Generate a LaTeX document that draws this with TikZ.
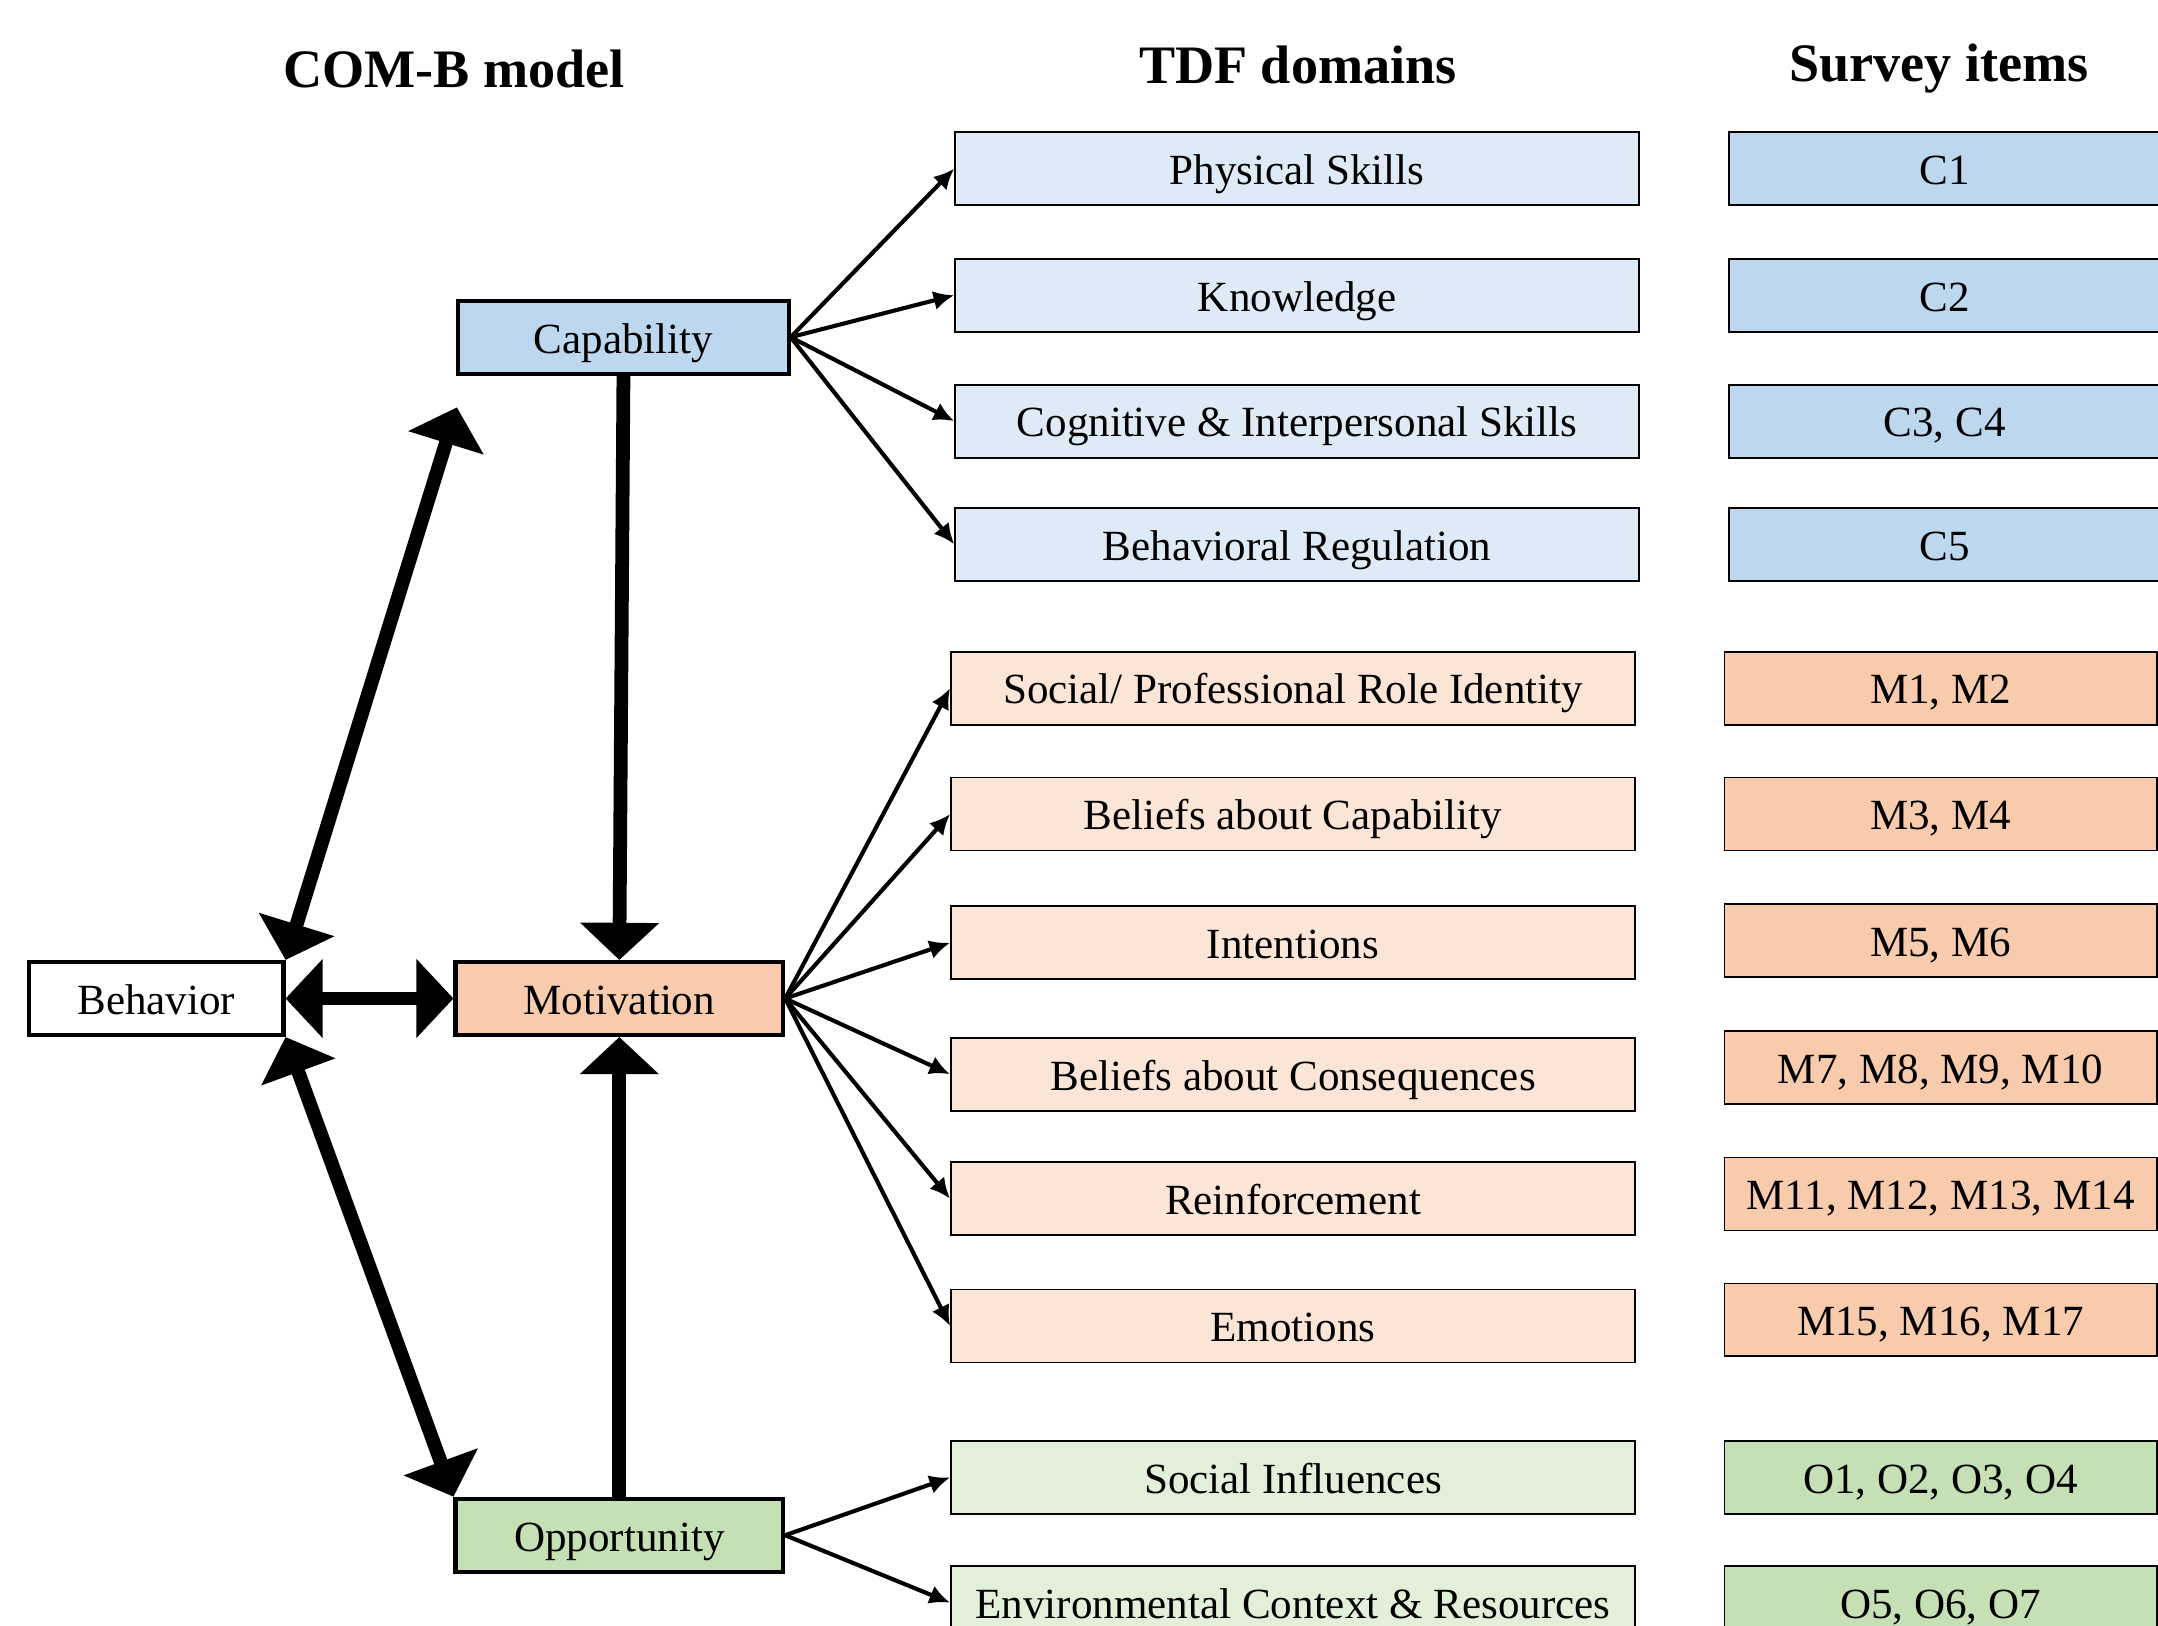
\documentclass[tikz,border=0pt]{standalone}
\usepackage{fontspec}
\setmainfont{Liberation Serif}
\usepackage{xcolor}
\usetikzlibrary{arrows.meta,positioning,calc}

\definecolor{capfill}{HTML}{BDD7EE}
\definecolor{caplight}{HTML}{DEEBF7}
\definecolor{motfill}{HTML}{F8CBAD}
\definecolor{motlight}{HTML}{FBE5D6}
\definecolor{oppfill}{HTML}{C5E0B4}
\definecolor{opplight}{HTML}{E2F0D9}

\begin{document}
\begin{tikzpicture}
  \useasboundingbox (0,0) rectangle (15.68,-11.81);
  \def\tdfc{9.425}
  \def\tdfm{9.395}
  \def\itemc{14.13}
  \def\itemm{14.10}
  \tikzset{combox/.style={draw,line width=0.03cm,minimum height=0.53cm,inner sep=0pt,text height=0.29cm,text depth=0.06cm,font=\fontsize{8.9}{10}\selectfont}}
  \tikzset{tdfbox/.style={draw,line width=0.013cm,minimum width=4.97cm,minimum height=0.53cm,inner sep=0pt,text height=0.29cm,text depth=0.06cm,font=\fontsize{8.9}{10}\selectfont}}
  \tikzset{itembox/.style={tdfbox,minimum width=3.14cm}}
  \tikzset{heading/.style={font=\fontsize{11.2}{13}\selectfont\bfseries}}
  \tikzset{bigboth/.style={line width=0.1cm,{Triangle[width=0.56cm,length=0.27cm]}-{Triangle[width=0.56cm,length=0.27cm]}}}
  \tikzset{bigone/.style={line width=0.1cm,-{Triangle[width=0.56cm,length=0.27cm]}}}
  \tikzset{tolink/.style={line width=0.03cm,-{Latex[length=0.15cm,width=0.14cm]}}}

  % headings
  \node[heading] (hcom) at (3.30,-0.50) {COM-B model};
  \node[heading] (htdf) at (9.43,-0.47) {TDF domains};
  \node[heading] (hitems) at (14.09,-0.50) {Survey items};

  % COM-B
  \node[combox,fill=white,minimum width=1.85cm] (beh) at (1.135,-7.255) {Behavior};
  \node[combox,fill=capfill,minimum width=2.40cm] (cap) at (4.53,-2.45) {Capability};
  \node[combox,fill=motfill,minimum width=2.38cm] (mot) at (4.50,-7.255) {Motivation};
  \node[combox,fill=oppfill,minimum width=2.38cm] (opp) at (4.50,-11.155) {Opportunity};
  \coordinate (captip) at (3.32,-2.96);

  % TDF domains
  \node[tdfbox,fill=caplight] (phys) at (\tdfc,-1.225) {Physical Skills};
  \node[tdfbox,fill=caplight] (know) at (\tdfc,-2.145) {Knowledge};
  \node[tdfbox,fill=caplight] (cogn) at (\tdfc,-3.06) {Cognitive \& Interpersonal Skills};
  \node[tdfbox,fill=caplight] (breg) at (\tdfc,-3.955) {Behavioral Regulation};
  \node[tdfbox,fill=motlight] (role) at (\tdfm,-5.00) {Social/ Professional Role Identity};
  \node[tdfbox,fill=motlight] (bcap) at (\tdfm,-5.915) {Beliefs about Capability};
  \node[tdfbox,fill=motlight] (inte) at (\tdfm,-6.85) {Intentions};
  \node[tdfbox,fill=motlight] (bcon) at (\tdfm,-7.805) {Beliefs about Consequences};
  \node[tdfbox,fill=motlight] (rein) at (\tdfm,-8.71) {Reinforcement};
  \node[tdfbox,fill=motlight] (emot) at (\tdfm,-9.635) {Emotions};
  \node[tdfbox,fill=opplight] (socl) at (\tdfm,-10.735) {Social Influences};
  \node[tdfbox,fill=opplight] (envr) at (\tdfm,-11.645) {Environmental Context \& Resources};

  % survey items
  \node[itembox,fill=capfill] (ic1) at (\itemc,-1.225) {C1};
  \node[itembox,fill=capfill] (ic2) at (\itemc,-2.145) {C2};
  \node[itembox,fill=capfill] (ic3) at (\itemc,-3.06) {C3, C4};
  \node[itembox,fill=capfill] (ic5) at (\itemc,-3.955) {C5};
  \node[itembox,fill=motfill] (im1) at (\itemm,-5.00) {M1, M2};
  \node[itembox,fill=motfill] (im3) at (\itemm,-5.915) {M3, M4};
  \node[itembox,fill=motfill] (im5) at (\itemm,-6.835) {M5, M6};
  \node[itembox,fill=motfill] (im7) at (\itemm,-7.755) {M7, M8, M9, M10};
  \node[itembox,fill=motfill] (im11) at (\itemm,-8.675) {M11, M12, M13, M14};
  \node[itembox,fill=motfill] (im15) at (\itemm,-9.59) {M15, M16, M17};
  \node[itembox,fill=oppfill] (io1) at (\itemm,-10.735) {O1, O2, O3, O4};
  \node[itembox,fill=oppfill] (io5) at (\itemm,-11.645) {O5, O6, O7};

  % thick links
  \draw[bigboth] (beh.north east) -- (captip);
  \draw[bigboth] (beh.east) -- (mot.west);
  \draw[bigboth] (beh.south east) -- (opp.north west);
  \draw[bigone] (cap.south) -- (mot.north);
  \draw[bigone] (opp.north) -- (mot.south);

  % domain links
  \foreach \d in {phys,know,cogn,breg}
    \draw[tolink] (cap.east) -- (\d.west);
  \foreach \d in {role,bcap,inte,bcon,rein,emot}
    \draw[tolink] (mot.east) -- (\d.west);
  \foreach \d in {socl,envr}
    \draw[tolink] (opp.east) -- (\d.west);
\end{tikzpicture}
\end{document}
